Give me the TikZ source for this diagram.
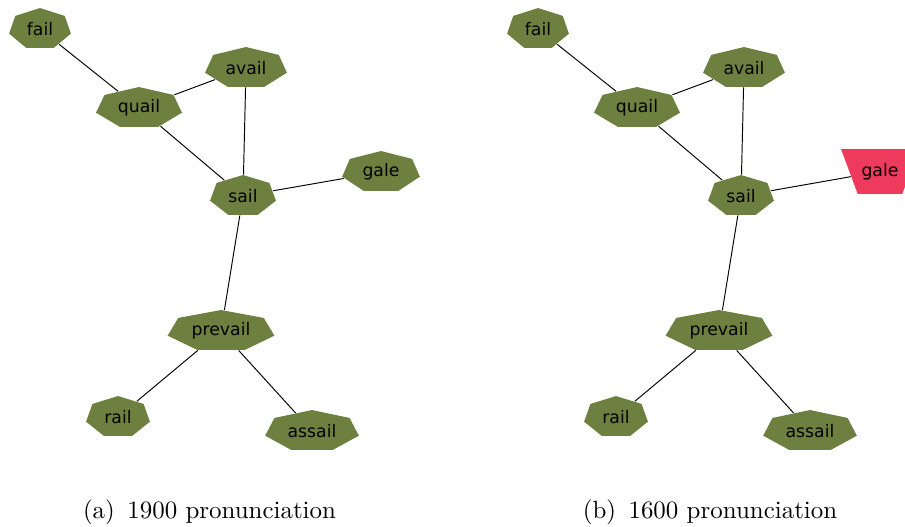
\documentclass[tikz,border=0pt]{standalone}
\usepackage{fontspec}
\newfontfamily\dejavu{DejaVu Sans}
\usetikzlibrary{shapes.geometric}

\definecolor{leaf}{RGB}{110,128,64}
\definecolor{changed}{RGB}{238,58,92}

\begin{document}
\begin{tikzpicture}[
    x=0.417pt, y=-0.417pt,
    word/.style={regular polygon, regular polygon sides=7, fill=leaf, inner sep=0pt, minimum size=17.5pt, transform shape},
    moved/.style={trapezium, trapezium angle=69.6, shape border rotate=180, fill=changed, inner sep=2pt, minimum width=32.5pt, minimum height=17.9pt},
    edge/.style={black, line width=0.4pt},
    every label/.style={font=\dejavu\fontsize{7.2}{8}\selectfont, text=black},
    caption/.style={font=\fontsize{10.4}{12}\selectfont}
]
    \clip (0,0) rectangle (905,526);

    % (a) 1900
    \node[word, xscale=1.51, label=center:fail] (a-fail) at (40,29) {};
    \node[word, xscale=2.0, label=center:avail] (a-avail) at (246,68) {};
    \node[word, xscale=2.1, label=center:quail] (a-quail) at (139,108) {};
    \node[word, xscale=1.61, label=center:sail] (a-sail) at (243,196) {};
    \node[word, xscale=1.9, label=center:gale] (a-gale) at (381,172) {};
    \node[word, xscale=2.61, label=center:prevail] (a-prevail) at (221,331) {};
    \node[word, xscale=1.56, label=center:rail] (a-rail) at (118,417) {};
    \node[word, xscale=2.29, label=center:assail] (a-assail) at (312,431) {};

    \draw[edge] (a-fail) -- (a-quail);
    \draw[edge] (a-quail) -- (a-avail);
    \draw[edge] (a-quail) -- (a-sail);
    \draw[edge] (a-avail) -- (a-sail);
    \draw[edge] (a-sail) -- (a-gale);
    \draw[edge] (a-sail) -- (a-prevail);
    \draw[edge] (a-prevail) -- (a-rail);
    \draw[edge] (a-prevail) -- (a-assail);

    % (b) 1600
    \node[word, xscale=1.51, label=center:fail] (b-fail) at (538,29) {};
    \node[word, xscale=2.0, label=center:avail] (b-avail) at (744,68) {};
    \node[word, xscale=2.1, label=center:quail] (b-quail) at (637,108) {};
    \node[word, xscale=1.61, label=center:sail] (b-sail) at (741,196) {};
    \node[moved, label=center:gale] (b-gale) at (880,171.5) {};
    \node[word, xscale=2.61, label=center:prevail] (b-prevail) at (719,331) {};
    \node[word, xscale=1.56, label=center:rail] (b-rail) at (616,417) {};
    \node[word, xscale=2.29, label=center:assail] (b-assail) at (810,431) {};

    \draw[edge] (b-fail) -- (b-quail);
    \draw[edge] (b-quail) -- (b-avail);
    \draw[edge] (b-quail) -- (b-sail);
    \draw[edge] (b-avail) -- (b-sail);
    \draw[edge] (b-sail) -- (b-gale);
    \draw[edge] (b-sail) -- (b-prevail);
    \draw[edge] (b-prevail) -- (b-rail);
    \draw[edge] (b-prevail) -- (b-assail);

    % Captions
    \node[caption] (cap-a) at (209.5,512) {(a)\enspace 1900 pronunciation};
    \node[caption] (cap-b) at (710,512) {(b)\enspace 1600 pronunciation};
\end{tikzpicture}
\end{document}
